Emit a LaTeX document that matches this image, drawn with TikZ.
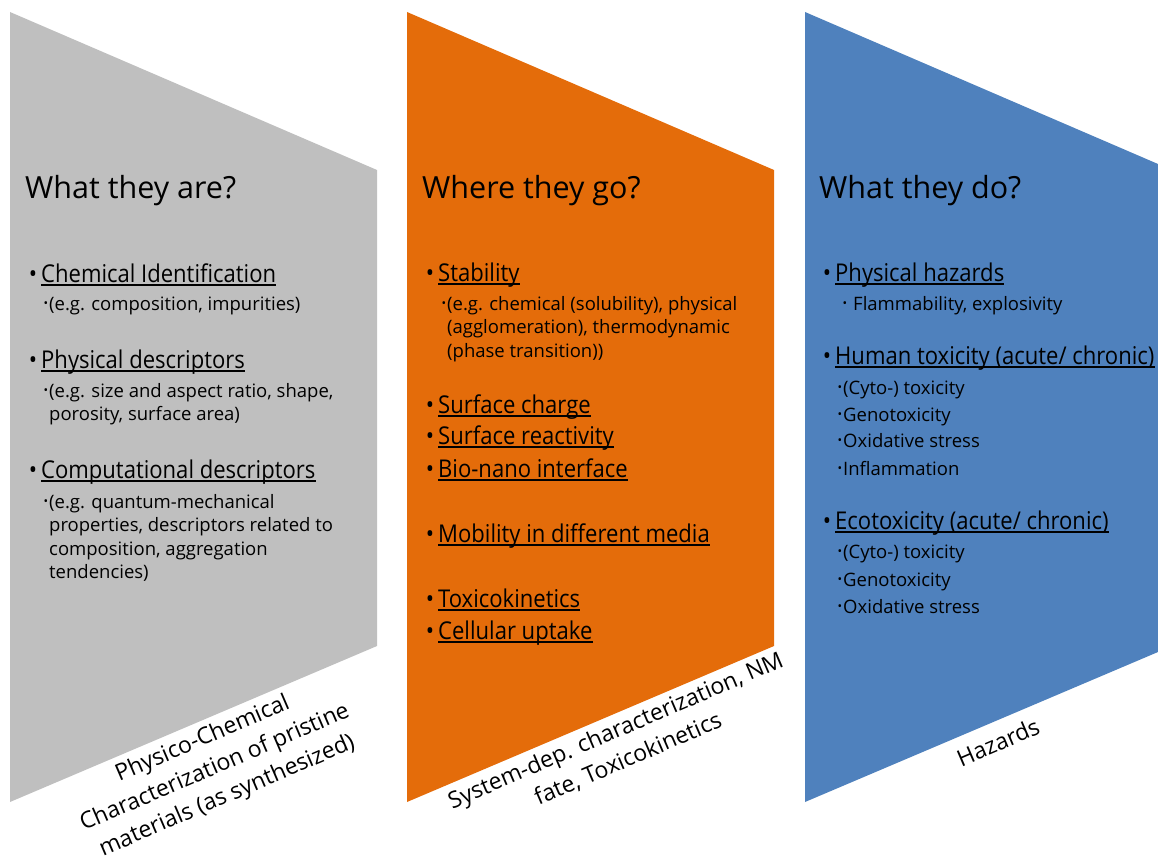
\documentclass[tikz,border=0pt]{standalone}
\usepackage{fontspec}
\setmainfont{Open Sans}
\newfontfamily\narrowfont[FakeStretch=0.9]{Open Sans}

\definecolor{pcgray}{HTML}{BFBFBF}
\definecolor{fateorange}{HTML}{E46C0A}
\definecolor{hazblue}{HTML}{4F81BD}

\newcommand{\mainbullet}{\llap{\textbullet\hspace{4pt}}}
\newcommand{\subbullet}{\llap{\raisebox{0.28ex}{\scalebox{0.65}{\textbullet}}\hspace{1pt}}}

\tikzset{
  heading/.style={anchor=base west, inner sep=0pt, font=\fontsize{30.5}{30.5}\selectfont},
  mainitem/.style={anchor=base west, inner sep=0pt, font=\narrowfont\fontsize{24.5}{24.5}\selectfont},
  % multi-line sub items: base = baseline of the last line
  subitem/.style={anchor=base west, inner sep=0pt, align=left, font=\fontsize{18.5}{23.5}\selectfont},
  ulline/.style={line width=2.2pt},
  steplabel/.style={rotate=23.3, align=center, inner sep=0pt, font=\fontsize{23}{31}\selectfont}
}

\begin{document}
\begin{tikzpicture}[x=1pt,y=-1pt]
  \useasboundingbox (0,0) rectangle (1158,856);

  % Three trapezoids
  \fill[pcgray] (10,12) -- (377,170) -- (377,646) -- (10,802) -- cycle;
  \fill[fateorange] (407,12) -- (774,170) -- (774,646) -- (407,802) -- cycle;
  \fill[hazblue] (805,12) -- (1158,164) -- (1158,652) -- (805,802) -- cycle;

  % Physico-chemical column
  \node[heading] (areh) at (25,198) {What they are?};
  \node[mainitem] (chemid) at (41,282) {\mainbullet Chemical Identification};
  \node[subitem] (chemidsub) at (49,310) {\subbullet(e.g. composition, impurities)};
  \node[mainitem] (physdesc) at (41,368) {\mainbullet Physical descriptors};
  \node[subitem] (physdescsub) at (49,420.5) {\subbullet(e.g. size and aspect ratio, shape,\\porosity, surface area)};
  \node[mainitem] (compdesc) at (41,478) {\mainbullet Computational descriptors};
  \node[subitem] (compdescsub) at (49,578.5) {\subbullet(e.g. quantum-mechanical\\properties, descriptors related to\\composition, aggregation\\tendencies)};

  % Fate column
  \node[heading] (goh) at (422,198) {Where they go?};
  \node[mainitem] (stab) at (438,281) {\mainbullet Stability};
  \node[subitem] (stabsub) at (447,357) {\subbullet(e.g. chemical (solubility), physical\\(agglomeration), thermodynamic\\(phase transition))};
  \node[mainitem] (surfch) at (438,413) {\mainbullet Surface charge};
  \node[mainitem] (surfre) at (438,444) {\mainbullet Surface reactivity};
  \node[mainitem] (bionano) at (438,477) {\mainbullet Bio-nano interface};
  \node[mainitem] (mobil) at (438,542) {\mainbullet Mobility in different media};
  \node[mainitem] (toxkin) at (438,607) {\mainbullet Toxicokinetics};
  \node[mainitem] (uptake) at (438,639) {\mainbullet Cellular uptake};

  % Hazards column
  \node[heading] (doh) at (819,198) {What they do?};
  \node[mainitem] (physhaz) at (835,281) {\mainbullet Physical hazards};
  \node[subitem] (flamm) at (848,310) {\subbullet\hspace{5pt}Flammability, explosivity};
  \node[mainitem] (humtox) at (835,364) {\mainbullet Human toxicity (acute/ chronic)};
  \node[subitem] (humcyto) at (843,394) {\subbullet(Cyto-) toxicity};
  \node[subitem] (humgeno) at (843,421) {\subbullet Genotoxicity};
  \node[subitem] (humoxi) at (843,447) {\subbullet Oxidative stress};
  \node[subitem] (huminfl) at (843,475) {\subbullet Inflammation};
  \node[mainitem] (ecotox) at (835,529) {\mainbullet Ecotoxicity (acute/ chronic)};
  \node[subitem] (ecocyto) at (843,558) {\subbullet(Cyto-) toxicity};
  \node[subitem] (ecogeno) at (843,586) {\subbullet Genotoxicity};
  \node[subitem] (ecooxi) at (843,613) {\subbullet Oxidative stress};

  % Underlines of the main items
  \foreach \n in {chemid,physdesc,compdesc,stab,surfch,surfre,bionano,mobil,toxkin,uptake,physhaz,humtox,ecotox}
    \draw[ulline] ([yshift=-3pt]\n.base west) -- ([yshift=-3pt]\n.base east);

  % Labels under the slanted edges
  \node[steplabel] (pclabel) at (215,768) {Physico-Chemical\\Characterization of pristine\\materials (as synthesized)};
  \node[steplabel] (fatelabel) at (622,745) {System-dep. characterization, NM\\fate, Toxicokinetics};
  \node[steplabel] (hazlabel) at (998,742) {Hazards};
\end{tikzpicture}
\end{document}
